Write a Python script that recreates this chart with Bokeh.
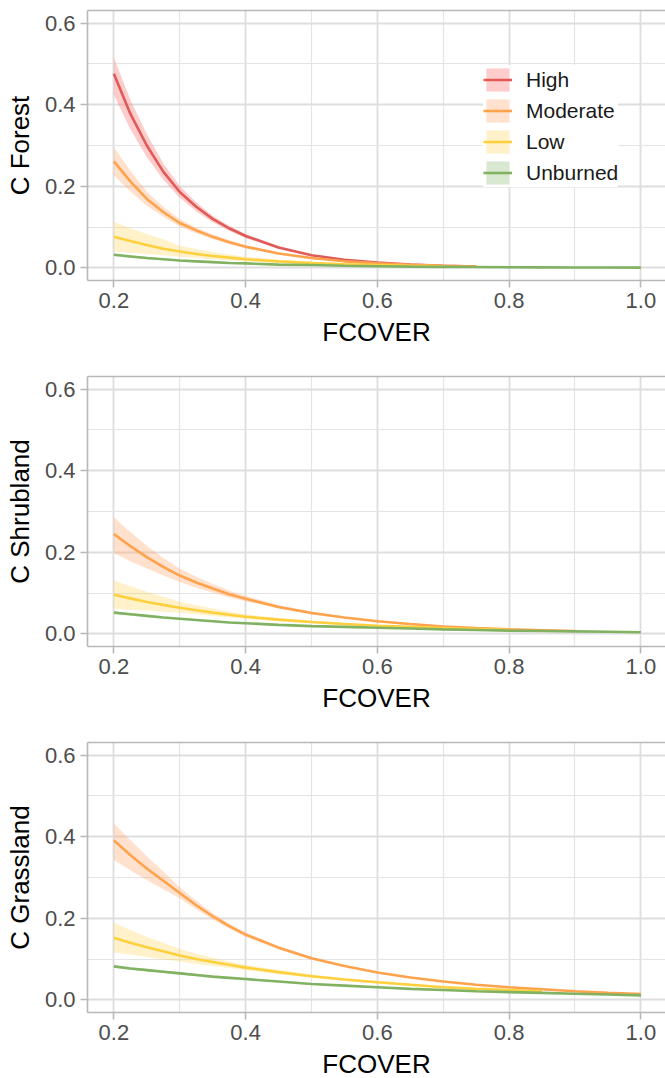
from bokeh.plotting import figure
from bokeh.models import (ColumnDataSource, Legend, LegendItem, SingleIntervalTicker,
                          PrintfTickFormatter, Range1d, LinearAxis, FixedTicker)
from bokeh.layouts import column
from bokeh.embed import file_html
from bokeh.resources import INLINE

# ---------------- data ----------------
X = [0.2, 0.225, 0.25, 0.275, 0.3, 0.325, 0.35, 0.375, 0.4, 0.45, 0.5, 0.55,
     0.6, 0.65, 0.7, 0.75, 0.8, 0.85, 0.9, 0.95, 1.0]

severity = ["High", "Moderate", "Low", "Unburned"]

# Forest
forest_high = [.476, .378, .300, .236, .186, .150, .120, .097, .078, .050, .031, .020, .013, .008, .005, .003]
forest_high_lo = [.424, .340, .272, .216, .172, .139, .112, .091, .073, .047, .029, .019, .012, .0075, .0047, .0028]
forest_high_hi = [.515, .412, .328, .256, .201, .161, .128, .103, .083, .053, .033, .021, .014, .0085, .0053, .0032]

forest_mod = [.261, .212, .169, .137, .110, .092, .076, .063, .052, .035, .024, .016, .011, .0075, .005, .0035]
forest_mod_lo = [.227, .187, .152, .125, .101, .085, .070, .059, .048, .033, .022, .015, .010, .007, .0046, .0032]
forest_mod_hi = [.296, .238, .187, .150, .120, .099, .082, .068, .056, .038, .026, .017, .012, .008, .0054, .0038]

forest_low = [.076, .066, .056, .047, .040, .034, .029, .025, .021, .016, .012, .009, .007, .005, .004]
forest_low_lo = [.040, .037, .034, .031, .027, .024, .021, .018, .016, .012, .009, .007, .005, .004, .003]
forest_low_hi = [.113, .097, .083, .070, .054, .046, .039, .033, .027, .020, .015, .011, .0085, .0062, .0048]

forest_unb = [.032, .028, .024, .021, .018, .016, .014, .012, .011, .008, .007, .005, .004, .003, .0025,
              .002, .0015, .0012, .001, .0008, .0006]
forest_unb_lo = [.029, .025, .021, .019, .016, .014, .012, .011, .0097, .007, .006, .0044, .0035, .0026, .0022,
                 .0017, .0013, .001, .0009, .0007, .0005]
forest_unb_hi = [.035, .031, .027, .023, .020, .018, .016, .013, .012, .009, .008, .0056, .0045, .0034, .0028,
                 .0023, .0017, .0014, .0011, .0009, .0007]

# Shrubland
shrub_mod = [.245, .215, .188, .164, .143, .126, .111, .097, .086, .066, .051, .040, .031, .024, .018, .014,
             .011, .009, .007]
shrub_mod_lo = [.198, .178, .160, .143, .127, .113, .101, .089, .080, .062, .048, .038, .029, .022, .017, .013,
                .010, .0083, .0065]
shrub_mod_hi = [.286, .250, .216, .186, .160, .140, .122, .106, .093, .071, .055, .042, .033, .026, .019, .015,
                .012, .0097, .0075]

shrub_low = [.096, .087, .078, .071, .064, .058, .052, .047, .042, .035, .029, .024, .020, .017, .014, .012, .010]
shrub_low_lo = [.061, .059, .057, .054, .052, .048, .044, .040, .037, .031, .026, .021, .018, .015, .013, .011, .009]
shrub_low_hi = [.131, .117, .103, .091, .079, .070, .062, .055, .048, .039, .032, .027, .022, .019, .016, .013, .011]

shrub_unb = [.052, .048, .044, .040, .037, .034, .031, .028, .026, .022, .019, .017, .015, .013, .011, .0095,
             .008, .007, .006, .005, .004]
shrub_unb_lo = [.049, .045, .041, .038, .035, .032, .029, .026, .024, .021, .018, .016, .014, .012, .010, .0088,
                .0074, .0065, .0055, .0046, .0037]
shrub_unb_hi = [.055, .051, .047, .043, .039, .036, .033, .030, .028, .023, .020, .018, .016, .014, .012, .0102,
                .0086, .0075, .0065, .0054, .0043]

# Grassland
grass_mod = [.391, .355, .322, .292, .262, .232, .205, .181, .160, .128, .102, .083, .067, .055, .045, .037,
             .031, .026, .021, .017, .014]
grass_mod_lo = [.343, .318, .294, .271, .249, .222, .197, .175, .155, .124, .099, .081, .065, .053, .044, .036,
                .030, .025, .020, .016, .013]
grass_mod_hi = [.432, .392, .352, .315, .276, .243, .213, .187, .165, .132, .105, .085, .069, .057, .046, .038,
                .032, .027, .022, .018, .015]

grass_low = [.152, .140, .129, .119, .109, .100, .093, .086, .079, .068, .058, .050, .043, .037, .031, .027,
             .024, .021]
grass_low_lo = [.116, .111, .105, .099, .094, .088, .083, .078, .073, .063, .054, .047, .040, .034, .029, .025,
                .022, .019]
grass_low_hi = [.189, .171, .154, .140, .125, .113, .103, .094, .086, .073, .062, .053, .046, .040, .034, .029,
                .025, .023]

grass_unb = [.082, .077, .073, .069, .065, .061, .057, .054, .051, .045, .039, .035, .031, .027, .024, .021,
             .019, .017, .015, .013, .011]
grass_unb_lo = [.079, .074, .070, .066, .062, .058, .055, .052, .049, .043, .037, .033, .029, .026, .023, .020,
                .018, .016, .014, .012, .010]
grass_unb_hi = [.085, .080, .076, .072, .068, .064, .059, .056, .053, .047, .041, .037, .033, .028, .025, .022,
                .020, .018, .016, .014, .012]

panels = [
    ("C Forest", [("High", forest_high, forest_high_lo, forest_high_hi),
                  ("Moderate", forest_mod, forest_mod_lo, forest_mod_hi),
                  ("Low", forest_low, forest_low_lo, forest_low_hi),
                  ("Unburned", forest_unb, forest_unb_lo, forest_unb_hi)]),
    ("C Shrubland", [("Moderate", shrub_mod, shrub_mod_lo, shrub_mod_hi),
                     ("Low", shrub_low, shrub_low_lo, shrub_low_hi),
                     ("Unburned", shrub_unb, shrub_unb_lo, shrub_unb_hi)]),
    ("C Grassland", [("Moderate", grass_mod, grass_mod_lo, grass_mod_hi),
                     ("Low", grass_low, grass_low_lo, grass_low_hi),
                     ("Unburned", grass_unb, grass_unb_lo, grass_unb_hi)]),
]

# ---------------- style ----------------
line_col = {"High": "#E05A58", "Moderate": "#FFA24C", "Low": "#FFD03E", "Unburned": "#80B262"}
fill_col = {"High": "#FF8080", "Moderate": "#FFA366", "Low": "#FFD24D", "Unburned": "#82B366"}
fill_alpha = {"High": 0.4, "Moderate": 0.33, "Low": 0.3, "Unburned": 0.3}
FONT = "Liberation Sans"
BORDER = "#B8B8B8"

figs = []
for i, (ylabel, series) in enumerate(panels):
    last = i == len(panels) - 1
    p = figure(frame_width=578, frame_height=270,
               min_border_left=87, min_border_right=0, min_border_top=10,
               min_border_bottom=66 if last else 86,
               x_range=Range1d(0.16, 1.0374), y_range=Range1d(-0.031, 0.631),
               output_backend="svg", toolbar_location=None)
    p.background_fill_color = "white"
    p.border_fill_color = "white"
    p.outline_line_color = None

    renderers = {}
    for name, y, lo, hi in series:
        n = len(y)
        src = ColumnDataSource(dict(x=X[:n], y=y, lo=lo, hi=hi))
        a = p.varea(x="x", y1="lo", y2="hi", source=src,
                    fill_color=fill_col[name], fill_alpha=fill_alpha[name])
        renderers[name] = [a]
    for name, y, lo, hi in series:
        n = len(y)
        src = ColumnDataSource(dict(x=X[:n], y=y))
        l = p.line(x="x", y="y", source=src, line_color=line_col[name], line_width=2.6)
        renderers[name].append(l)

    for ax in (p.xaxis[0], p.yaxis[0]):
        ax.ticker = SingleIntervalTicker(interval=0.2, num_minor_ticks=2)
        ax.formatter = PrintfTickFormatter(format="%.1f")
        ax.axis_line_color = BORDER
        ax.axis_line_width = 1.6
        ax.major_tick_line_color = BORDER
        ax.major_tick_line_width = 1.6
        ax.major_tick_out = 7
        ax.major_tick_in = 0
        ax.minor_tick_out = 0
        ax.minor_tick_in = 0
        ax.major_label_text_font = FONT
        ax.major_label_text_font_size = "22px"
        ax.major_label_text_color = "#4D4D4D"
        ax.major_label_standoff = 5
        ax.axis_label_text_font = FONT
        ax.axis_label_text_font_size = "26px"
        ax.axis_label_text_font_style = "normal"
        ax.axis_label_text_color = "#000000"
    p.xaxis.axis_label = "FCOVER"
    p.xaxis.axis_label_standoff = 6
    p.yaxis.axis_label = ylabel
    p.yaxis.axis_label_standoff = 7
    p.yaxis.major_label_standoff = 5

    # top border of the panel
    top = LinearAxis(ticker=FixedTicker(ticks=[]), axis_line_color=BORDER, axis_line_width=1.6,
                     major_tick_line_color=None, minor_tick_line_color=None,
                     major_label_text_font_size="0px")
    p.add_layout(top, "above")

    for g in (p.xgrid[0], p.ygrid[0]):
        g.grid_line_color = "#DEDEDE"
        g.grid_line_width = 1.8
        g.minor_grid_line_color = "#E4E4E4"
        g.minor_grid_line_width = 1.2

    if i == 0:
        items = [LegendItem(label=s, renderers=renderers[s]) for s in severity]
        leg = Legend(items=items, location=(396, 93), orientation="vertical",
                     glyph_width=29, glyph_height=29, spacing=2, padding=12,
                     label_standoff=14, margin=0,
                     label_text_font=FONT, label_text_font_size="21px",
                     label_text_color="#1A1A1A", border_line_color=None,
                     background_fill_color="white", background_fill_alpha=1.0)
        p.add_layout(leg, "center")
    figs.append(p)

layout = column(*figs, spacing=0)
open("out.html", "w").write(file_html(layout, INLINE))
